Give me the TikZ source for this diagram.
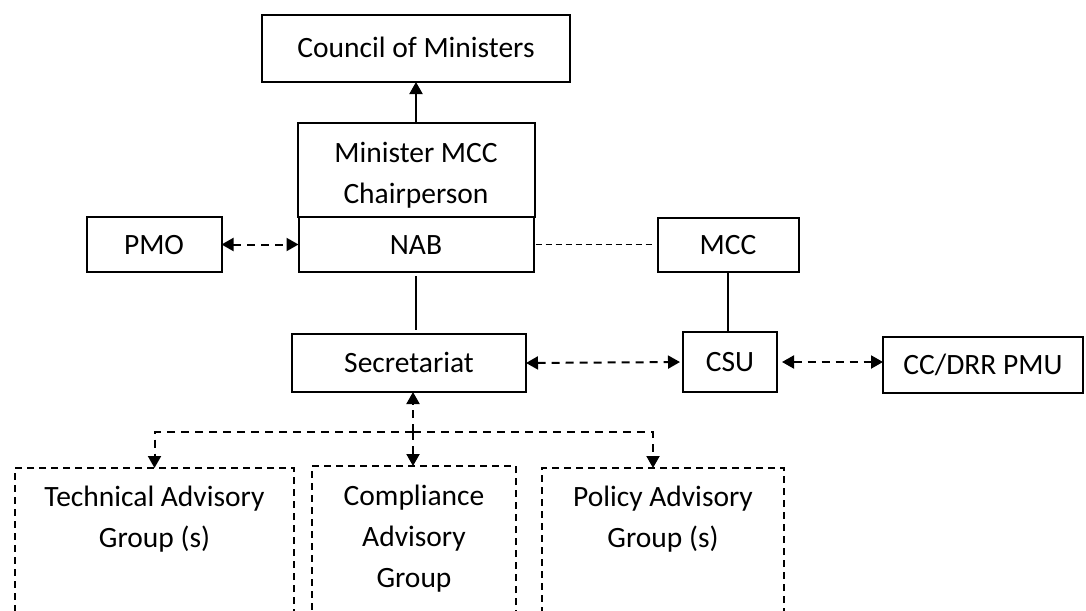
\documentclass[tikz,border=0pt]{standalone}
\usepackage{fontspec}
\setmainfont{Carlito}
\usetikzlibrary{arrows.meta,positioning}

\begin{document}
\begin{tikzpicture}[
    x=1pt, y=-1pt,
    font=\fontsize{29.5}{41}\selectfont,
    box/.style={rectangle, draw, line width=2pt, inner sep=0pt, outer sep=0pt, align=center, text height=19pt, text depth=0pt},
    advisory/.style={rectangle, draw, line width=1.5pt, dash pattern=on 7pt off 5pt, inner sep=0pt, outer sep=0pt, align=center, anchor=north, text height=79pt, text depth=150pt},
    arrow/.style={-{Triangle[length=12pt, width=13pt]}, line width=2pt},
    dasharrow/.style={arrow, dash pattern=on 8pt off 6pt},
    link/.style={line width=1.4pt},
    dashlink/.style={link, dash pattern=on 6pt off 4pt}
]
\useasboundingbox (0,0) rectangle (1086,610);
\clip (0,0) rectangle (1086,610);

% top of the chart
\node[box, minimum width=308pt, minimum height=67pt] (council) at (416,48.5) {Council of Ministers};
\node[box, below=41pt of council, minimum width=237pt, minimum height=94pt, text height=66pt, text depth=0pt] (minister) {Minister MCC\\Chairperson};
\node[box, below=0pt of minister, minimum width=235pt, minimum height=55pt] (nab) {NAB};
\node[box, left=77pt of nab, minimum width=135pt, minimum height=55pt] (pmo) {PMO};
\node[box, right=124pt of nab, minimum width=141pt, minimum height=54pt] (mcc) {MCC};

\draw[arrow] (minister.north) -- (minister.north |- council.south);
\draw[dasharrow, {Triangle[length=12pt, width=13pt]}-{Triangle[length=12pt, width=13pt]}] (pmo.east) -- (nab.west);
\draw[dashlink, shorten <=2pt, shorten >=6pt] (nab.east) -- (nab.east -| mcc.west);

% secretariat row
\node[box, minimum width=234pt, minimum height=58pt] (secretariat) at (409,363) {Secretariat};
\node[box, minimum width=94pt, minimum height=60pt] (csu) at (730,362) {CSU};
\node[box, right=106pt of csu, minimum width=200pt, minimum height=56pt, yshift=-3pt] (pmu) {CC/DRR PMU};

\draw[link, shorten <=4pt, shorten >=4pt] (nab.south) -- (nab.south |- secretariat.north);
\draw[link] (mcc.south) -- (mcc.south |- csu.north);
\draw[dasharrow, {Triangle[length=12pt, width=13pt]}-{Triangle[length=12pt, width=13pt]}, shorten >=3pt] (secretariat.east) -- (csu.west);
\draw[dasharrow, {Triangle[length=12pt, width=13pt]}-{Triangle[length=12pt, width=13pt]}, shorten <=5pt] (csu.east) -- (csu.east -| pmu.west);

% advisory groups
\node[advisory, minimum width=279pt] (tech) at (154.5,468) {Technical Advisory\\Group (s)};
\node[advisory, minimum width=204pt, text height=121pt] (comp) at (414,466) {Compliance\\Advisory\\Group};
\node[advisory, minimum width=242pt] (policy) at (663,468) {Policy Advisory\\Group (s)};

\coordinate (hub) at (413,432);
\draw[dasharrow] (hub) -- (hub |- secretariat.south);
\draw[dasharrow] (hub) -| (tech.north);
\draw[dasharrow] (hub) -- (hub |- comp.north);
\draw[dasharrow] (hub) -| ([xshift=-10pt]policy.north);

\end{tikzpicture}
\end{document}
